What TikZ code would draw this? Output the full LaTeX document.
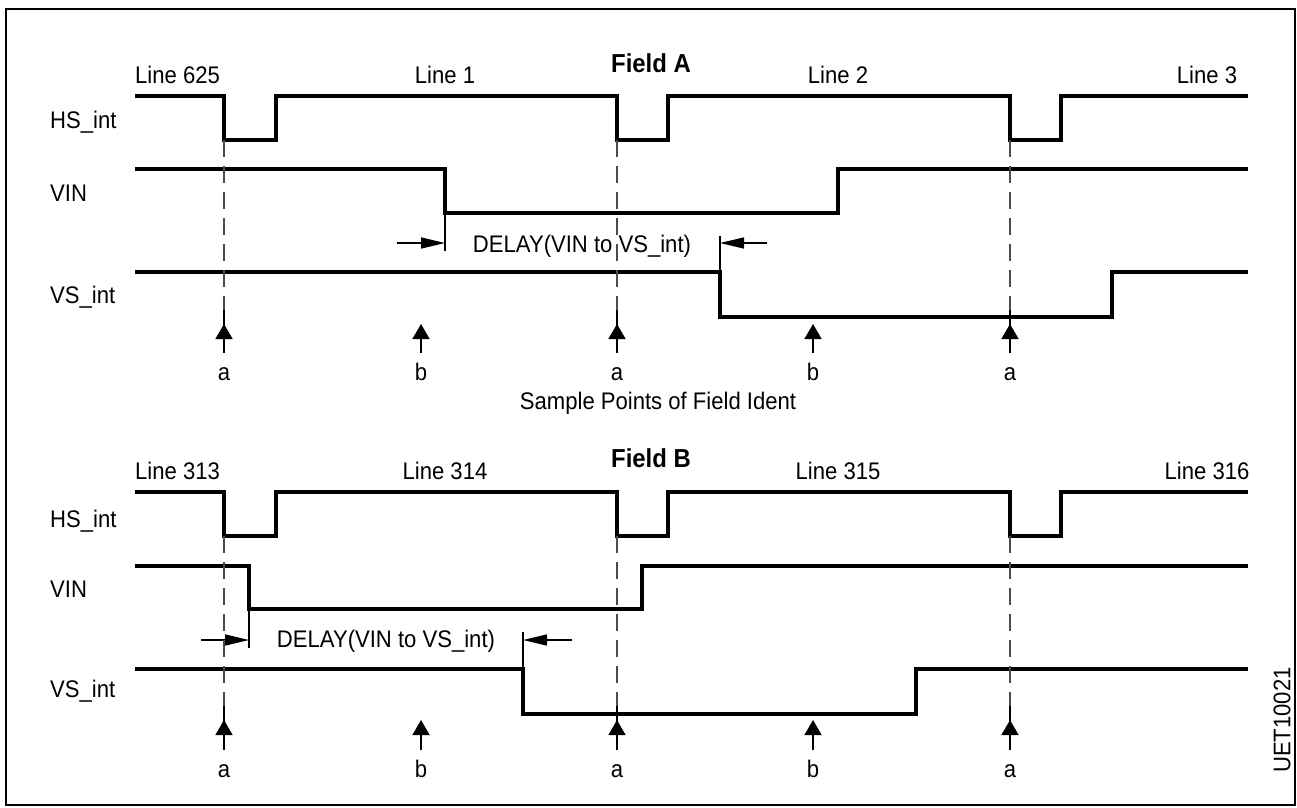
\documentclass[tikz,border=0pt]{standalone}
\usepackage{fontspec}
\setmainfont{Liberation Sans}[FakeStretch=0.92]
\usetikzlibrary{arrows.meta}
\begin{document}
\begin{tikzpicture}[x=1pt,y=-1pt,
  sig/.style={line width=4pt,line join=miter},
  thinl/.style={line width=1.5pt},
  dashl/.style={line width=1.5pt,black!70,dash pattern=on 17pt off 9pt},
  frame/.style={line width=2.5pt},
  txt/.style={inner sep=0pt,font=\fontsize{24}{28}\selectfont},
  ttl/.style={inner sep=0pt,font=\fontsize{26}{30}\selectfont\bfseries},
  samp/.style={line width=1.5pt,-{Triangle[length=15pt,width=17pt]}},
  dly/.style={line width=1.5pt,-{Triangle[length=24pt,width=11pt]}}]
\useasboundingbox (0,0) rectangle (1297,807);
\draw[frame] (6,9) rectangle (1295,805);

% ---------------- Field A ----------------
\node[ttl,anchor=base] (fA) at (651,72) {Field A};
\node[txt,anchor=base west] (l625) at (135,83) {Line 625};
\node[txt,anchor=base] (l1) at (445,83) {Line 1};
\node[txt,anchor=base] (l2) at (838,83) {Line 2};
\node[txt,anchor=base] (l3) at (1207,83) {Line 3};
\node[txt,anchor=base west] (hsA) at (50,128) {HS\_int};
\node[txt,anchor=base west] (vinA) at (50,201) {VIN};
\node[txt,anchor=base west] (vsA) at (50,303) {VS\_int};

\draw[sig] (135,96) -- (224,96) -- (224,140) -- (276,140) -- (276,96) -- (617,96) -- (617,140) -- (668,140) -- (668,96) -- (1010,96) -- (1010,140) -- (1061,140) -- (1061,96) -- (1248,96);
\draw[sig] (135,169) -- (445,169) -- (445,213) -- (838,213) -- (838,169) -- (1248,169);
\draw[sig] (135,272) -- (720,272) -- (720,317) -- (1112,317) -- (1112,272) -- (1248,272);

\node[txt,anchor=base] (dA) at (582,252) {DELAY(VIN to VS\_int)};
\coordinate (dAl) at (445,243);
\coordinate (dAr) at (720,243);
\draw[thinl] (445,213) -- (445,251);
\draw[thinl] (720,272) -- (720,236);
\draw[dly] (397,243) -- (dAl);
\draw[dly] (767,243) -- (dAr);

\foreach \x/\t/\n in {224/a/1,421/b/2,617/a/3,813/b/4,1010/a/5}{
  \node[txt,anchor=base] (sA\n) at (\x,380) {\t};
  \coordinate (tA\n) at (\x,324);
  \draw[samp] (\x,353) -- (tA\n);
}
\foreach \x in {224,617,1010}{
  \draw[dashl] (\x,140) -- (\x,320);
  \draw[thinl] (\x,310) -- (\x,330);
}
\node[txt,anchor=base] (sp) at (658,409) {Sample Points of Field Ident};

% ---------------- Field B ----------------
\node[ttl,anchor=base] (fB) at (651,467) {Field B};
\node[txt,anchor=base west] (l313) at (135,479) {Line 313};
\node[txt,anchor=base] (l314) at (445,479) {Line 314};
\node[txt,anchor=base] (l315) at (838,479) {Line 315};
\node[txt,anchor=base] (l316) at (1207,479) {Line 316};
\node[txt,anchor=base west] (hsB) at (50,527) {HS\_int};
\node[txt,anchor=base west] (vinB) at (50,597) {VIN};
\node[txt,anchor=base west] (vsB) at (50,697) {VS\_int};

\draw[sig] (135,492) -- (224,492) -- (224,536) -- (276,536) -- (276,492) -- (617,492) -- (617,536) -- (668,536) -- (668,492) -- (1010,492) -- (1010,536) -- (1061,536) -- (1061,492) -- (1248,492);
\draw[sig] (135,566) -- (249,566) -- (249,609) -- (642,609) -- (642,566) -- (1248,566);
\draw[sig] (135,669) -- (523,669) -- (523,714) -- (916,714) -- (916,669) -- (1248,669);

\node[txt,anchor=base] (dB) at (386,647) {DELAY(VIN to VS\_int)};
\coordinate (dBl) at (249,640);
\coordinate (dBr) at (523,640);
\draw[thinl] (249,609) -- (249,648);
\draw[thinl] (523,669) -- (523,632);
\draw[dly] (201,640) -- (dBl);
\draw[dly] (572,640) -- (dBr);

\foreach \x/\t/\n in {224/a/1,421/b/2,617/a/3,813/b/4,1010/a/5}{
  \node[txt,anchor=base] (sB\n) at (\x,777) {\t};
  \coordinate (tB\n) at (\x,720);
  \draw[samp] (\x,750) -- (tB\n);
}
\foreach \x in {224,617,1010}{
  \draw[dashl] (\x,536) -- (\x,716);
  \draw[thinl] (\x,706) -- (\x,726);
}

\node[txt,rotate=90] (uet) at (1282,720) {UET10021};
\end{tikzpicture}
\end{document}
